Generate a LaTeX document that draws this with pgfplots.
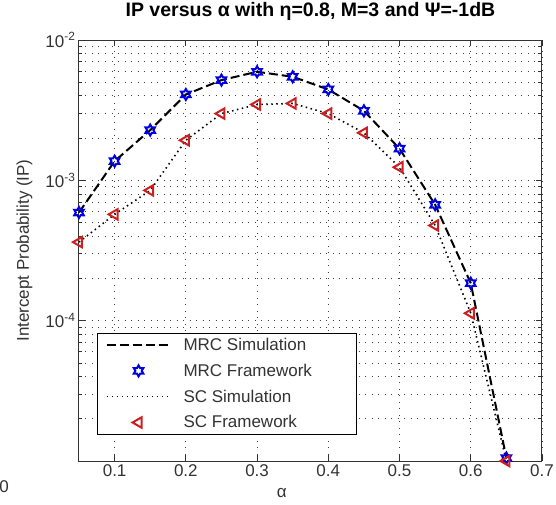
\documentclass[border=0pt]{standalone}
\usepackage{pgfplots}
\pgfplotsset{compat=1.18}
\usepackage{fontspec}
\setmainfont{Liberation Sans}
\definecolor{mblue}{rgb}{0,0,0.9}
\definecolor{mred}{rgb}{0.8,0.12,0.12}
\pgfdeclareplotmark{hexagram}{%
  \pgfmathsetlengthmacro{\rin}{0.577*\pgfplotmarksize}%
  \pgfpathmoveto{\pgfpointpolar{90}{\pgfplotmarksize}}%
  \pgfpathlineto{\pgfpointpolar{120}{\rin}}%
  \pgfpathlineto{\pgfpointpolar{150}{\pgfplotmarksize}}%
  \pgfpathlineto{\pgfpointpolar{180}{\rin}}%
  \pgfpathlineto{\pgfpointpolar{210}{\pgfplotmarksize}}%
  \pgfpathlineto{\pgfpointpolar{240}{\rin}}%
  \pgfpathlineto{\pgfpointpolar{270}{\pgfplotmarksize}}%
  \pgfpathlineto{\pgfpointpolar{300}{\rin}}%
  \pgfpathlineto{\pgfpointpolar{330}{\pgfplotmarksize}}%
  \pgfpathlineto{\pgfpointpolar{0}{\rin}}%
  \pgfpathlineto{\pgfpointpolar{30}{\pgfplotmarksize}}%
  \pgfpathlineto{\pgfpointpolar{60}{\rin}}%
  \pgfpathclose
  \pgfusepathqstroke}
\pgfplotstableread{
x mrc sc
0.05 5.9e-4 3.63e-4
0.10 1.37e-3 5.72e-4
0.15 2.28e-3 8.48e-4
0.20 4.09e-3 1.93e-3
0.25 5.18e-3 2.99e-3
0.30 5.94e-3 3.47e-3
0.35 5.47e-3 3.53e-3
0.40 4.44e-3 2.99e-3
0.45 3.13e-3 2.18e-3
0.50 1.68e-3 1.24e-3
0.55 6.7e-4 4.77e-4
0.60 1.85e-4 1.13e-4
0.65 1.05e-5 1.0e-5
}\datatable
\begin{document}
\begin{tikzpicture}
\begin{axis}[
  scale only axis,
  width=463pt, height=421pt,
  xmin=0.05, xmax=0.7,
  ymode=log, ymin=1e-5, ymax=1e-2,
  xtick={0.1,0.2,0.3,0.4,0.5,0.6,0.7},
  xticklabels={0.1,0.2,0.3,0.4,0.5,0.6,0.7},
  ytick={1e-5,1e-4,1e-3,1e-2},
  yticklabels={,10\textsuperscript{-4},10\textsuperscript{-3},10\textsuperscript{-2}},
  tick label style={font=\fontsize{17}{17}\selectfont, color=black!80},
  tick align=inside,
  major tick length=6pt, minor tick length=3.5pt,
  xminorgrids=false,
  xmajorgrids, ymajorgrids, yminorgrids,
  grid style={black!75, line width=0.8pt, dash pattern=on 1pt off 5.5pt},
  minor grid style={black!75, line width=0.8pt, dash pattern=on 1pt off 5.5pt},
  axis line style={line width=1pt, black!80},
  every tick/.style={black!80, line width=0.8pt},
  title={\bfseries IP versus α with η=0.8, M=3 and Ψ=-1dB},
  title style={font=\fontsize{19.5}{19.5}\selectfont, at={(axis description cs:0.5,1)}, anchor=south, yshift=10pt},
  xlabel={α},
  xlabel style={font=\fontsize{17}{17}\selectfont, text=black!80, at={(axis description cs:0.438,0)}, anchor=north, yshift=-24pt},
  ylabel={Intercept Probability (IP)},
  ylabel style={font=\fontsize{17}{17}\selectfont, text=black!80, at={(axis description cs:0,0.5)}, anchor=south, yshift=43pt},
  legend style={at={(axis description cs:0.039,0.062)}, anchor=south west,
    font=\fontsize{17}{17}\selectfont, draw=black, line width=1pt,
    inner xsep=8pt, inner ysep=3pt, row sep=8pt, column sep=10pt, text=black!80},
  legend cell align=left,
  legend image code/.code={\draw[mark repeat=2,mark phase=2,#1] plot coordinates {(0pt,0pt) (32pt,0pt) (64pt,0pt)};},
]
\addplot[black, line width=2pt, dash pattern=on 9pt off 4pt] table[x=x,y=mrc]{\datatable};
\addlegendentry{MRC Simulation}
\addplot[only marks, mblue, mark=hexagram, mark size=5.5pt, line width=2pt] table[x=x,y=mrc]{\datatable};
\addlegendentry{MRC Framework\hspace*{34pt}}
\addplot[black, line width=1.6pt, dash pattern=on 1.5pt off 3.5pt] table[x=x,y=sc]{\datatable};
\addlegendentry{SC Simulation}
\addplot[only marks, mred, mark=triangle, mark size=6pt, line width=2pt, mark options={rotate=90}] table[x=x,y=sc]{\datatable};
\addlegendentry{SC Framework}
\end{axis}
\node[font=\fontsize{17}{17}\selectfont, text=black!80] at (-75pt,-26pt) {0};
\pgfresetboundingbox
\useasboundingbox (-79pt,-43pt) rectangle (477pt,461pt);
\end{tikzpicture}
\end{document}
